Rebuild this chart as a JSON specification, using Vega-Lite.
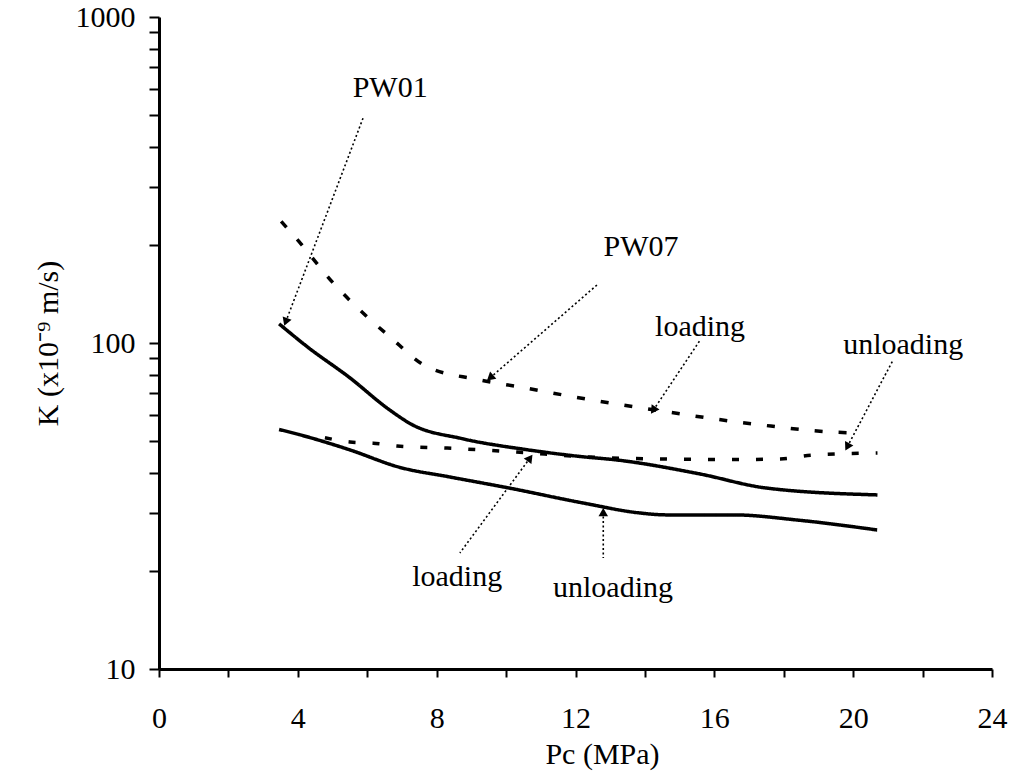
{
  "$schema": "https://vega.github.io/schema/vega-lite/v6.json",
  "autosize": {"type": "none"},
  "width": 833,
  "height": 652,
  "padding": {"left": 159, "top": 17, "right": 22, "bottom": 107},
  "background": "white",
  "config": {"view": {"stroke": null}, "font": "Times New Roman, Liberation Serif, serif"},
  "datasets": {
    "curves": [
      {"series": "PW01 loading", "x": 3.46, "y": 114.5},
      {"series": "PW01 loading", "x": 4.32, "y": 96.5},
      {"series": "PW01 loading", "x": 5.48, "y": 78.5},
      {"series": "PW01 loading", "x": 6.63, "y": 62.5},
      {"series": "PW01 loading", "x": 7.29, "y": 56.2},
      {"series": "PW01 loading", "x": 8.73, "y": 50.9},
      {"series": "PW01 loading", "x": 10.58, "y": 47.1},
      {"series": "PW01 loading", "x": 12.19, "y": 44.8},
      {"series": "PW01 loading", "x": 13.17, "y": 43.8},
      {"series": "PW01 loading", "x": 15.56, "y": 39.7},
      {"series": "PW01 loading", "x": 17.5, "y": 35.9},
      {"series": "PW01 loading", "x": 20.7, "y": 34.2},
      {"series": "PW01 unloading", "x": 3.46, "y": 54.3},
      {"series": "PW01 unloading", "x": 4.03, "y": 52.4},
      {"series": "PW01 unloading", "x": 5.5, "y": 47.0},
      {"series": "PW01 unloading", "x": 6.92, "y": 41.6},
      {"series": "PW01 unloading", "x": 8.39, "y": 38.8},
      {"series": "PW01 unloading", "x": 10.09, "y": 35.9},
      {"series": "PW01 unloading", "x": 12.22, "y": 32.3},
      {"series": "PW01 unloading", "x": 13.86, "y": 30.1},
      {"series": "PW01 unloading", "x": 14.61, "y": 29.7},
      {"series": "PW01 unloading", "x": 16.54, "y": 29.7},
      {"series": "PW01 unloading", "x": 18.44, "y": 28.6},
      {"series": "PW01 unloading", "x": 20.69, "y": 26.7},
      {"series": "PW07 loading", "x": 3.52, "y": 236},
      {"series": "PW07 loading", "x": 4.03, "y": 205},
      {"series": "PW07 loading", "x": 4.99, "y": 154},
      {"series": "PW07 loading", "x": 5.97, "y": 121},
      {"series": "PW07 loading", "x": 6.63, "y": 105},
      {"series": "PW07 loading", "x": 7.69, "y": 84.9},
      {"series": "PW07 loading", "x": 9.14, "y": 77.4},
      {"series": "PW07 loading", "x": 10.46, "y": 73.1},
      {"series": "PW07 loading", "x": 11.9, "y": 68.5},
      {"series": "PW07 loading", "x": 14.2, "y": 62.5},
      {"series": "PW07 loading", "x": 17.32, "y": 56.1},
      {"series": "PW07 loading", "x": 19.42, "y": 53.3},
      {"series": "PW07 loading", "x": 20.0, "y": 53.0},
      {"series": "PW07 unloading", "x": 4.78, "y": 51.2},
      {"series": "PW07 unloading", "x": 5.5, "y": 49.7},
      {"series": "PW07 unloading", "x": 6.17, "y": 49.3},
      {"series": "PW07 unloading", "x": 6.86, "y": 48.3},
      {"series": "PW07 unloading", "x": 8.3, "y": 47.6},
      {"series": "PW07 unloading", "x": 10.3, "y": 46.3},
      {"series": "PW07 unloading", "x": 12.19, "y": 44.8},
      {"series": "PW07 unloading", "x": 14.3, "y": 44.1},
      {"series": "PW07 unloading", "x": 16.5, "y": 43.9},
      {"series": "PW07 unloading", "x": 17.9, "y": 44.1},
      {"series": "PW07 unloading", "x": 18.8, "y": 45.3},
      {"series": "PW07 unloading", "x": 20.7, "y": 46.0}
    ],
    "arrows": [
      {"name": "PW01", "x": 3.65, "y": 116, "x2": 5.88, "y2": 490},
      {"name": "PW07", "x": 9.54, "y": 78.2, "x2": 12.62, "y2": 150.7},
      {"name": "loadingUp", "x": 14.24, "y": 62.2, "x2": 15.59, "y2": 102},
      {"name": "unloadingUp", "x": 19.83, "y": 48.0, "x2": 21.15, "y2": 88.7},
      {"name": "loadingLow", "x": 10.69, "y": 44.4, "x2": 8.67, "y2": 22.7},
      {"name": "unloadingLow", "x": 12.8, "y": 30.3, "x2": 12.8, "y2": 21.9}
    ],
    "labels": [
      {"text": "PW01", "x": 6.66, "y": 605},
      {"text": "PW07", "x": 13.89, "y": 197},
      {"text": "loading", "x": 15.59, "y": 112},
      {"text": "unloading", "x": 21.44, "y": 98.6},
      {"text": "loading", "x": 8.59, "y": 19.1},
      {"text": "unloading", "x": 13.08, "y": 17.7}
    ]
  },
  "encoding": {
    "x": {
      "field": "x", "type": "quantitative",
      "scale": {"domain": [0, 24], "nice": false, "zero": false},
      "axis": {
        "values": [0, 2, 4, 6, 8, 10, 12, 14, 16, 18, 20, 22, 24],
        "labelExpr": "datum.value % 4 == 0 ? datum.label : ''",
        "grid": false,
        "domainColor": "black", "domainWidth": 3,
        "tickColor": "black", "tickWidth": 2, "tickSize": 8,
        "labelFont": "Times New Roman, Liberation Serif, serif", "labelFontSize": 30, "labelColor": "black", "labelPadding": 26,
        "labelFlush": false, "labelOverlap": false,
        "title": "Pc (MPa)",
        "titleFont": "Times New Roman, Liberation Serif, serif", "titleFontSize": 30, "titleFontWeight": "normal", "titleColor": "black",
        "titleX": 443, "titleY": 70
      }
    },
    "y": {
      "field": "y", "type": "quantitative",
      "scale": {"type": "log", "domain": [10, 1000], "nice": false},
      "axis": {
        "values": [10, 20, 30, 40, 50, 60, 70, 80, 90, 100, 200, 300, 400, 500, 600, 700, 800, 900, 1000],
        "labelExpr": "(datum.value == 10 || datum.value == 100 || datum.value == 1000) ? format(datum.value, 'd') : ''",
        "grid": false,
        "domainColor": "black", "domainWidth": 3,
        "tickColor": "black", "tickWidth": 2, "tickSize": 10,
        "labelFont": "Times New Roman, Liberation Serif, serif", "labelFontSize": 30, "labelColor": "black", "labelPadding": 14,
        "labelFlush": false, "labelOverlap": false,
        "title": "K (x10⁻⁹ m/s)",
        "titleFont": "Times New Roman, Liberation Serif, serif", "titleFontSize": 30, "titleFontWeight": "normal", "titleColor": "black",
        "titlePadding": 12
      }
    }
  },
  "layer": [
    {
      "data": {"name": "curves"},
      "mark": {"type": "line", "color": "black", "strokeWidth": 3.5, "interpolate": "monotone"},
      "encoding": {
        "strokeDash": {
          "field": "series", "type": "nominal",
          "scale": {
            "domain": ["PW01 loading", "PW01 unloading", "PW07 loading", "PW07 unloading"],
            "range": [[1, 0], [1, 0], [8, 16], [7, 17]]
          },
          "legend": null
        }
      }
    },
    {
      "data": {"name": "arrows"},
      "mark": {"type": "rule", "color": "black", "strokeWidth": 1.6, "strokeDash": [2, 2.5]},
      "encoding": {
        "x2": {"field": "x2"},
        "y2": {"field": "y2"}
      }
    },
    {
      "data": {"name": "arrows"},
      "transform": [{"filter": "datum.name == 'PW01'"}],
      "mark": {"type": "point", "shape": "triangle-up", "filled": true, "color": "black", "opacity": 1, "size": 90, "angle": 200.6},
      "encoding": {}
    },
    {
      "data": {"name": "arrows"},
      "transform": [{"filter": "datum.name == 'PW07'"}],
      "mark": {"type": "point", "shape": "triangle-up", "filled": true, "color": "black", "opacity": 1, "size": 90, "angle": 228.9},
      "encoding": {}
    },
    {
      "data": {"name": "arrows"},
      "transform": [{"filter": "datum.name == 'loadingUp'"}],
      "mark": {"type": "point", "shape": "triangle-up", "filled": true, "color": "black", "opacity": 1, "size": 90, "angle": 213.9},
      "encoding": {}
    },
    {
      "data": {"name": "arrows"},
      "transform": [{"filter": "datum.name == 'unloadingUp'"}],
      "mark": {"type": "point", "shape": "triangle-up", "filled": true, "color": "black", "opacity": 1, "size": 90, "angle": 207.9},
      "encoding": {}
    },
    {
      "data": {"name": "arrows"},
      "transform": [{"filter": "datum.name == 'loadingLow'"}],
      "mark": {"type": "point", "shape": "triangle-up", "filled": true, "color": "black", "opacity": 1, "size": 90, "angle": 36.4},
      "encoding": {}
    },
    {
      "data": {"name": "arrows"},
      "transform": [{"filter": "datum.name == 'unloadingLow'"}],
      "mark": {"type": "point", "shape": "triangle-up", "filled": true, "color": "black", "opacity": 1, "size": 90, "angle": 0},
      "encoding": {}
    },
    {
      "data": {"name": "labels"},
      "mark": {"type": "text", "font": "Times New Roman, Liberation Serif, serif", "fontSize": 30, "color": "black", "align": "center", "baseline": "middle"},
      "encoding": {
        "text": {"field": "text", "type": "nominal"}
      }
    }
  ]
}
